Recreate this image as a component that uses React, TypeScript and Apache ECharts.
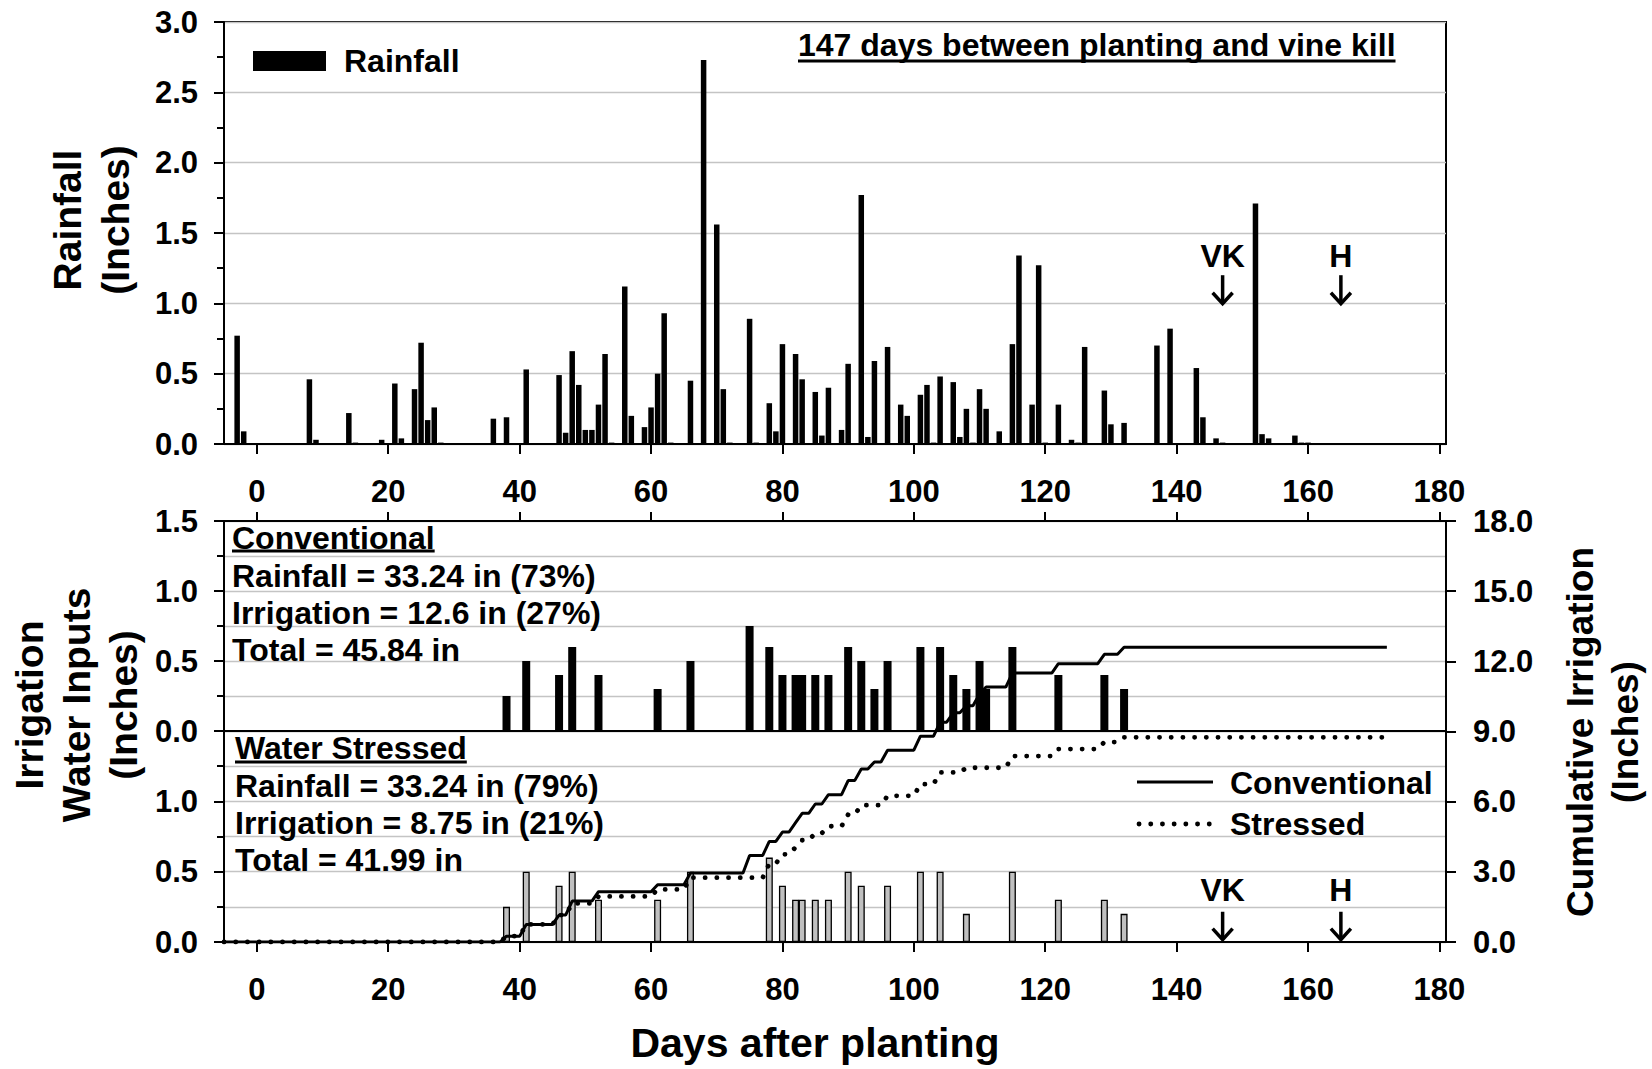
import React, { useEffect, useRef } from "react";
import * as echarts from "echarts";

const FONT = '"Liberation Sans", Arial, Helvetica, sans-serif';

// ---------- Data ----------
const xTicks = [0, 20, 40, 60, 80, 100, 120, 140, 160, 180];

// Daily rainfall (days after planting, inches)
const rainDays = [-3, -2, 8, 9, 14, 15, 19, 21, 22, 24, 25, 26, 27, 28, 36, 38, 41, 46, 47, 48, 49, 50, 51, 52, 53, 54, 56, 57, 59, 60, 61, 62, 63, 66, 68, 70, 71, 72, 75, 76, 78, 79, 80, 82, 83, 85, 86, 87, 89, 90, 92, 93, 94, 96, 98, 99, 101, 102, 103, 104, 106, 107, 108, 109, 110, 111, 113, 115, 116, 118, 119, 120, 122, 124, 125, 126, 129, 130, 132, 137, 139, 143, 144, 146, 147, 152, 153, 154, 158, 159, 160];
const rainInches = [0.77, 0.09, 0.46, 0.03, 0.22, 0.01, 0.03, 0.43, 0.04, 0.39, 0.72, 0.17, 0.26, 0.01, 0.18, 0.19, 0.53, 0.49, 0.08, 0.66, 0.42, 0.10, 0.10, 0.28, 0.64, 0.01, 1.12, 0.20, 0.12, 0.26, 0.50, 0.93, 0.01, 0.45, 2.73, 1.56, 0.39, 0.01, 0.89, 0.01, 0.29, 0.09, 0.71, 0.64, 0.46, 0.37, 0.06, 0.40, 0.10, 0.57, 1.77, 0.05, 0.59, 0.69, 0.28, 0.20, 0.35, 0.42, 0.01, 0.48, 0.44, 0.05, 0.25, 0.01, 0.39, 0.25, 0.09, 0.71, 1.34, 0.28, 1.27, 0.01, 0.28, 0.03, 0.01, 0.69, 0.38, 0.14, 0.15, 0.70, 0.82, 0.54, 0.19, 0.04, 0.01, 1.71, 0.07, 0.04, 0.06, 0.01, 0.01];

// Irrigation events, conventional
const convDays = [38, 41, 46, 48, 52, 61, 66, 75, 78, 80, 82, 83, 85, 87, 90, 92, 94, 96, 101, 104, 106, 108, 110, 111, 115, 122, 129, 132];
const convInches = [0.25, 0.5, 0.4, 0.6, 0.4, 0.3, 0.5, 0.75, 0.6, 0.4, 0.4, 0.4, 0.4, 0.4, 0.6, 0.5, 0.3, 0.5, 0.6, 0.6, 0.4, 0.3, 0.5, 0.3, 0.6, 0.4, 0.4, 0.3];

// Irrigation events, water stressed
const stressDays = [38, 41, 46, 48, 52, 61, 66, 78, 80, 82, 83, 85, 87, 90, 92, 96, 101, 104, 108, 115, 122, 129, 132];
const stressInches = [0.25, 0.5, 0.4, 0.5, 0.3, 0.3, 0.5, 0.6, 0.4, 0.3, 0.3, 0.3, 0.3, 0.5, 0.4, 0.4, 0.5, 0.5, 0.2, 0.5, 0.3, 0.3, 0.2];

// Cumulative irrigation (inches) as plotted
const convCumDays = [-5, 37, 38, 40, 41, 45, 46, 47, 48, 51, 52, 60, 61, 65, 66, 74, 75, 77, 78, 79, 80, 81, 82, 83, 84, 85, 86, 87, 89, 90, 91, 92, 93, 94, 95, 96, 100, 101, 103, 104, 105, 106, 107, 108, 109, 110, 111, 114, 115, 121, 122, 128, 129, 131, 132, 172];
const convCumInches = [0, 0, 0.25, 0.25, 0.75, 0.75, 1.15, 1.15, 1.75, 1.75, 2.15, 2.15, 2.45, 2.45, 2.95, 2.95, 3.7, 3.7, 4.3, 4.3, 4.7, 4.7, 5.1, 5.5, 5.5, 5.9, 5.9, 6.3, 6.3, 6.9, 6.9, 7.4, 7.4, 7.7, 7.7, 8.2, 8.2, 8.8, 8.8, 9.4, 9.4, 9.8, 9.8, 10.1, 10.1, 10.6, 10.9, 10.9, 11.5, 11.5, 11.9, 11.9, 12.3, 12.3, 12.6, 12.6];
const stressCumDays = [-5, 37, 38, 40, 41, 45, 46, 47, 48, 51, 52, 60, 61, 65, 66, 77, 78, 79, 80, 81, 82, 83, 84, 85, 86, 87, 89, 90, 91, 92, 95, 96, 100, 101, 103, 104, 107, 108, 114, 115, 121, 122, 128, 129, 131, 132, 172];
const stressCumInches = [0, 0, 0.25, 0.25, 0.75, 0.75, 1.15, 1.15, 1.65, 1.65, 1.95, 1.95, 2.25, 2.25, 2.75, 2.75, 3.35, 3.35, 3.75, 3.75, 4.05, 4.35, 4.35, 4.65, 4.65, 4.95, 4.95, 5.45, 5.45, 5.85, 5.85, 6.25, 6.25, 6.75, 6.75, 7.25, 7.25, 7.45, 7.45, 7.95, 7.95, 8.25, 8.25, 8.55, 8.55, 8.75, 8.75];

// Event markers
const markerDays = [147, 165];
const markerLabels = ["VK", "H"];

// Texts
const topNote = "147 days between planting and vine kill";
const convHeading = "Conventional";
const convLines = ["Rainfall = 33.24 in (73%)", "Irrigation = 12.6 in (27%)", "Total = 45.84 in"];
const stressHeading = "Water Stressed";
const stressLines = ["Rainfall = 33.24 in (79%)", "Irrigation = 8.75 in (21%)", "Total = 41.99 in"];

// ---------- helpers ----------
function textWidth(s: string, size: number): number {
  const c = document.createElement("canvas").getContext("2d");
  if (!c) return s.length * size * 0.6;
  c.font = `bold ${size}px ${FONT}`;
  return c.measureText(s).width;
}

const black = "#000";
const gridGray = "#c4c4c4";
const labelStyle = { color: black, fontSize: 31, fontWeight: "bold" as const, fontFamily: FONT };
const axisLineStyle = { color: black, width: 2 };

function txt(text: string, x: number, y: number, size: number, align = "left", extra: any = {}) {
  const { styleExtra, ...rest } = extra;
  return {
    type: "text",
    x,
    y,
    silent: true,
    ...rest,
    style: {
      text,
      fill: black,
      fontSize: size,
      fontWeight: "bold",
      fontFamily: FONT,
      align,
      verticalAlign: "middle",
      textAlign: align,
      textVerticalAlign: "middle",
      ...(styleExtra || {}),
    },
  };
}

function lineEl(x1: number, y1: number, x2: number, y2: number, width: number, extraStyle: any = {}) {
  return {
    type: "line",
    silent: true,
    shape: { x1, y1, x2, y2 },
    style: { stroke: black, lineWidth: width, ...extraStyle },
  };
}

export default function App() {
  const ref = useRef<HTMLDivElement>(null);

  useEffect(() => {
    if (!ref.current) return;
    const chart = echarts.init(ref.current, null, { renderer: "svg" });

    const L = 224;
    const W = 1222;
    const xBase = { type: "value", min: -5, max: 181, splitLine: { show: false } };

    const yBars = (gridIndex: number, hideTop: boolean) => ({
      type: "value",
      gridIndex,
      min: 0,
      max: 1.5,
      interval: 0.5,
      axisLine: { show: true, onZero: false, lineStyle: axisLineStyle },
      axisTick: { show: true, length: 10, lineStyle: axisLineStyle },
      minorTick: { show: true, splitNumber: 2, length: 7, lineStyle: axisLineStyle },
      splitLine: { show: true, lineStyle: { color: gridGray, width: 1.3 } },
      minorSplitLine: { show: true, lineStyle: { color: gridGray, width: 1.3 } },
      axisLabel: {
        ...labelStyle,
        margin: 26,
        formatter: (v: number) => (hideTop && v >= 1.5 ? "" : v.toFixed(1)),
      },
    });

    const option: any = {
      animation: false,
      backgroundColor: "#fff",
      textStyle: { fontFamily: FONT },
      grid: [
        { left: L, top: 22, width: W, height: 422, show: true, borderColor: black, borderWidth: 2, backgroundColor: "transparent" },
        { left: L, top: 521, width: W, height: 210 },
        { left: L, top: 731, width: W, height: 211 },
        { left: L, top: 521, width: W, height: 421 },
      ],
      legend: [
        {
          data: [{ name: "Rainfall", icon: "rect" }],
          left: 253,
          top: 45,
          padding: 0,
          itemWidth: 73,
          itemHeight: 20,
          selectedMode: false,
          textStyle: { color: black, fontSize: 32, fontWeight: "bold", fontFamily: FONT, padding: [0, 0, 0, 13] },
        },
      ],
      xAxis: [
        {
          ...xBase,
          gridIndex: 0,
          position: "bottom",
          axisLine: { show: true, onZero: false, lineStyle: axisLineStyle },
          axisTick: { show: true, customValues: xTicks, length: 10, lineStyle: axisLineStyle },
          axisLabel: { ...labelStyle, customValues: xTicks, margin: 32 },
        },
        {
          ...xBase,
          gridIndex: 1,
          position: "bottom",
          axisLine: { show: true, onZero: false, lineStyle: axisLineStyle },
          axisTick: { show: false },
          axisLabel: { show: false },
        },
        {
          ...xBase,
          gridIndex: 1,
          position: "top",
          axisLine: { show: true, onZero: false, lineStyle: axisLineStyle },
          axisTick: { show: true, customValues: xTicks, length: 9, lineStyle: axisLineStyle },
          axisLabel: { show: false },
        },
        {
          ...xBase,
          gridIndex: 2,
          position: "bottom",
          axisLine: { show: true, onZero: false, lineStyle: axisLineStyle },
          axisTick: { show: true, customValues: xTicks, length: 10, lineStyle: axisLineStyle },
          axisLabel: { ...labelStyle, customValues: xTicks, margin: 32 },
        },
        { ...xBase, gridIndex: 3, show: false },
      ],
      yAxis: [
        {
          type: "value",
          gridIndex: 0,
          min: 0,
          max: 3,
          interval: 0.5,
          axisLine: { show: true, onZero: false, lineStyle: axisLineStyle },
          axisTick: { show: true, length: 10, lineStyle: axisLineStyle },
          minorTick: { show: true, splitNumber: 2, length: 7, lineStyle: axisLineStyle },
          splitLine: { show: true, lineStyle: { color: gridGray, width: 1.3 } },
          axisLabel: { ...labelStyle, margin: 26, formatter: (v: number) => v.toFixed(1) },
        },
        yBars(1, false),
        yBars(2, true),
        {
          type: "value",
          gridIndex: 3,
          position: "right",
          min: 0,
          max: 18,
          interval: 3,
          axisLine: { show: true, onZero: false, lineStyle: axisLineStyle },
          axisTick: { show: true, length: 10, lineStyle: axisLineStyle },
          splitLine: { show: false },
          axisLabel: { ...labelStyle, margin: 27, formatter: (v: number) => v.toFixed(1) },
        },
      ],
      series: [
        {
          type: "bar",
          name: "Rainfall",
          xAxisIndex: 0,
          yAxisIndex: 0,
          barWidth: 5.5,
          itemStyle: { color: black },
          data: rainDays.map((d, i) => [d, rainInches[i]]),
        },
        {
          type: "bar",
          name: "Conventional irrigation",
          xAxisIndex: 1,
          yAxisIndex: 1,
          barWidth: 8,
          itemStyle: { color: black },
          data: convDays.map((d, i) => [d, convInches[i]]),
        },
        {
          type: "bar",
          name: "Stressed irrigation",
          xAxisIndex: 3,
          yAxisIndex: 2,
          barWidth: 7,
          itemStyle: { color: "#c0c0c0", borderColor: black, borderWidth: 1.3 },
          data: stressDays.map((d, i) => [d, stressInches[i]]),
        },
        {
          type: "line",
          name: "Conventional",
          xAxisIndex: 4,
          yAxisIndex: 3,
          symbol: "none",
          lineStyle: { color: black, width: 3 },
          data: convCumDays.map((d, i) => [d, convCumInches[i]]),
          z: 5,
        },
        {
          type: "line",
          name: "Stressed",
          xAxisIndex: 4,
          yAxisIndex: 3,
          symbol: "none",
          lineStyle: { color: black, width: 4.8, type: [0.1, 11.6], cap: "round" },
          data: stressCumDays.map((d, i) => [d, stressCumInches[i]]),
          z: 5,
        },
      ],
    };

    chart.setOption(option);

    // ---------- annotations ----------
    const g: any[] = [];

    // axis titles
    g.push(txt("Rainfall\n(Inches)", 91, 220, 39, "center", { rotation: Math.PI / 2, styleExtra: { lineHeight: 48 } }));
    g.push(txt("Irrigation\nWater Inputs\n(Inches)", 76, 705, 39, "center", { rotation: Math.PI / 2, styleExtra: { lineHeight: 47 } }));
    g.push(txt("Cumulative Irrigation\n(Inches)", 1603, 732, 37, "center", { rotation: Math.PI / 2, styleExtra: { lineHeight: 45 } }));
    g.push(txt("Days after planting", 815, 1043, 41, "center"));

    // top note with underline
    g.push(txt(topNote, 798, 45, 32));
    g.push(lineEl(798, 61, 798 + textWidth(topNote, 32), 61, 3));

    // summary blocks
    g.push(txt(convHeading, 232, 538, 32));
    g.push(lineEl(232, 551, 232 + textWidth(convHeading, 32), 551, 3));
    convLines.forEach((s, i) => g.push(txt(s, 232, 576 + i * 37, 32)));
    g.push(txt(stressHeading, 235, 748, 32));
    g.push(lineEl(235, 762, 235 + textWidth(stressHeading, 32), 762, 3));
    stressLines.forEach((s, i) => g.push(txt(s, 235, 786 + i * 37, 32)));

    // cumulative legend
    g.push(lineEl(1137, 782, 1213, 782, 3));
    g.push(txt("Conventional", 1230, 783, 32));
    g.push(lineEl(1139, 824, 1213, 824, 4.8, { lineDash: [0.1, 11.6], lineCap: "round" }));
    g.push(txt("Stressed", 1230, 824, 32));

    // VK / H markers
    const arrow = (x: number, yTop: number, yBot: number) => {
      g.push(lineEl(x, yTop, x, yBot - 1, 3.5));
      g.push({
        type: "polyline",
        silent: true,
        shape: { points: [[x - 10, yBot - 12], [x, yBot - 1], [x + 10, yBot - 12]] },
        style: { stroke: black, lineWidth: 3.5, fill: "none", lineJoin: "miter" },
      });
    };
    markerDays.forEach((d, i) => {
      const pLab = chart.convertToPixel({ xAxisIndex: 0, yAxisIndex: 0 }, [d, 1.34]) as number[];
      const pTop = chart.convertToPixel({ xAxisIndex: 0, yAxisIndex: 0 }, [d, 1.2]) as number[];
      const pBot = chart.convertToPixel({ xAxisIndex: 0, yAxisIndex: 0 }, [d, 0.99]) as number[];
      g.push(txt(markerLabels[i], pLab[0], pLab[1], 32, "center"));
      arrow(pTop[0], pTop[1], pBot[1]);

      const qLab = chart.convertToPixel({ xAxisIndex: 3, yAxisIndex: 2 }, [d, 0.37]) as number[];
      const qTop = chart.convertToPixel({ xAxisIndex: 3, yAxisIndex: 2 }, [d, 0.215]) as number[];
      const qBot = chart.convertToPixel({ xAxisIndex: 3, yAxisIndex: 2 }, [d, 0.01]) as number[];
      g.push(txt(markerLabels[i], qLab[0], qLab[1], 32, "center"));
      arrow(qTop[0], qTop[1], qBot[1]);
    });

    chart.setOption({ graphic: { elements: g } });

    return () => chart.dispose();
  }, []);

  return <div ref={ref} style={{ position: "fixed", left: 0, top: 0, width: 1652, height: 1069, background: "#fff" }} />;
}
